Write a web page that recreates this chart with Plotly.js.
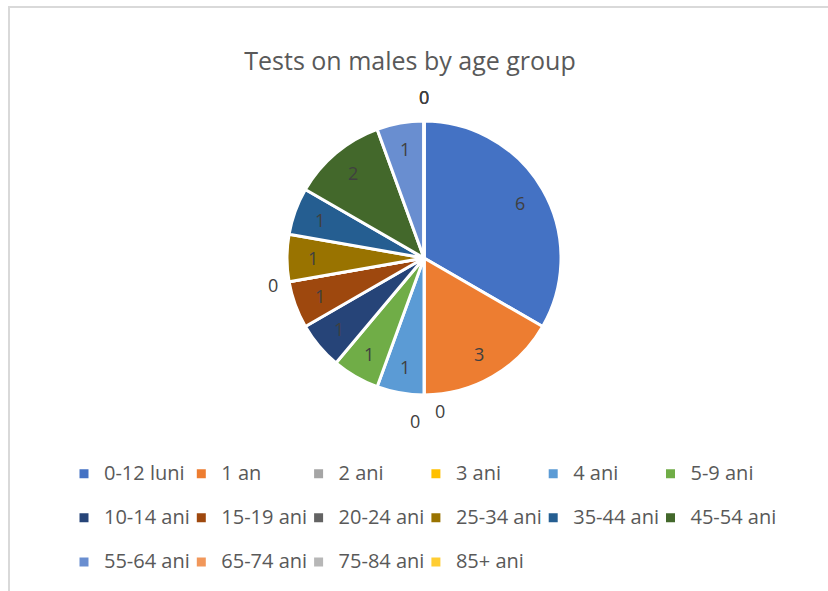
<!DOCTYPE html>
<html>
<head>
<meta charset="utf-8">
<script src="https://cdn.plot.ly/plotly-3.0.1.min.js"></script>
<style>
  html, body { margin: 0; padding: 0; background: #fff; }
  #wrap { position: relative; width: 828px; height: 591px; }
  #chart { width: 828px; height: 591px; }
  #frame { position: absolute; left: 8px; top: 6px; right: -10px; bottom: -10px;
           border-left: 2px solid #D9D9D9; border-top: 2px solid #D9D9D9; pointer-events: none; }
  .legend .scrollbox { clip-path: none !important; }
</style>
</head>
<body>
<div id="wrap"><div id="chart"></div><div id="frame"></div></div>
<script>
const categories = ['0-12 luni', '1 an', '2 ani', '3 ani', '4 ani', '5-9 ani',
  '10-14 ani', '15-19 ani', '20-24 ani', '25-34 ani', '35-44 ani', '45-54 ani',
  '55-64 ani', '65-74 ani', '75-84 ani', '85+ ani'];
const values = [6, 3, 0, 0, 1, 1, 1, 1, 0, 1, 1, 2, 1, 0, 0, 0];
const colors = ['#4472C4', '#ED7D31', '#A5A5A5', '#FFC000', '#5B9BD5', '#70AD47',
  '#264478', '#9E480E', '#636363', '#997300', '#255E91', '#43682B',
  '#698ED0', '#F1975A', '#B7B7B7', '#FFCD33'];
const chartTitle = 'Tests on males by age group';

const W = 828, H = 591;
const MR = 80;               // right margin limits legend rows to 6 entries
const PW = W - MR;           // plot-area width
const cx = 424, cy = 258, R = 137;
const FONT = '"Open Sans", "Noto Sans", sans-serif';
const LABEL_FONT = { family: FONT, size: 18, color: '#404040' };

const total = values.reduce((a, b) => a + b, 0);

// Data labels: nonzero inside each slice, zero-valued ones just outside at their angle
const annotations = [];
let cum = 0;
const groups = {};
values.forEach((v, i) => {
  if (v === 0) {
    groups[cum] = groups[cum] || [];
    groups[cum].push(i);
  } else {
    const mid = ((cum + v / 2) / total) * 2 * Math.PI;
    const rr = R * 0.81;
    const px = cx + rr * Math.sin(mid);
    const py = cy - rr * Math.cos(mid);
    annotations.push({
      x: px / PW, y: 1 - py / H, xref: 'paper', yref: 'paper',
      text: String(v), showarrow: false, font: LABEL_FONT,
      xanchor: 'center', yanchor: 'middle'
    });
  }
  cum += v;
});
Object.keys(groups).forEach(k => {
  const members = groups[k];
  const ang = (Number(k) / total) * 2 * Math.PI;
  const rr = R * 1.12;
  members.forEach((idx, j) => {
    let dx = 0, dy = 0;
    if (members.length === 2) { dx = j === 0 ? 16 : -9; dy = j === 0 ? 0 : 10; }
    if (members.length >= 3) { dy = -8; }
    const px = cx + rr * Math.sin(ang) + dx;
    const py = cy - rr * Math.cos(ang) + dy;
    annotations.push({
      x: px / PW, y: 1 - py / H, xref: 'paper', yref: 'paper',
      text: String(values[idx]), showarrow: false, font: LABEL_FONT,
      xanchor: 'center', yanchor: 'middle'
    });
  });
});

const trace = {
  type: 'pie',
  labels: categories.map(c => '<span style="font-size:20px">' + c + '</span><br>&nbsp;'),
  values: values,
  sort: false,
  direction: 'clockwise',
  rotation: 0,
  marker: { colors: colors, line: { color: '#FFFFFF', width: 3 } },
  textinfo: 'none',
  hoverinfo: 'none',
  domain: { x: [(cx - R) / PW, (cx + R) / PW], y: [1 - (cy + R) / H, 1 - (cy - R) / H] }
};

const layout = {
  width: W, height: H,
  margin: { l: 0, r: MR, t: 0, b: 0, autoexpand: false },
  paper_bgcolor: '#FFFFFF',
  title: { text: chartTitle, xref: 'container', x: 410 / W, xanchor: 'center',
           yref: 'container', y: 1 - 61 / H, yanchor: 'middle',
           font: { family: FONT, size: 25, color: '#595959' } },
  showlegend: true,
  legend: {
    orientation: 'h', x: 64 / PW, xanchor: 'left', y: 1 - 457 / H, yanchor: 'top',
    entrywidth: 72.3, entrywidthmode: 'pixels', valign: 'top',
    font: { family: FONT, size: 15.8, color: '#595959' },
    traceorder: 'normal'
  },
  annotations: annotations
};

Plotly.newPlot('chart', [trace], layout, { displayModeBar: false, staticPlot: true });
</script>
</body>
</html>
